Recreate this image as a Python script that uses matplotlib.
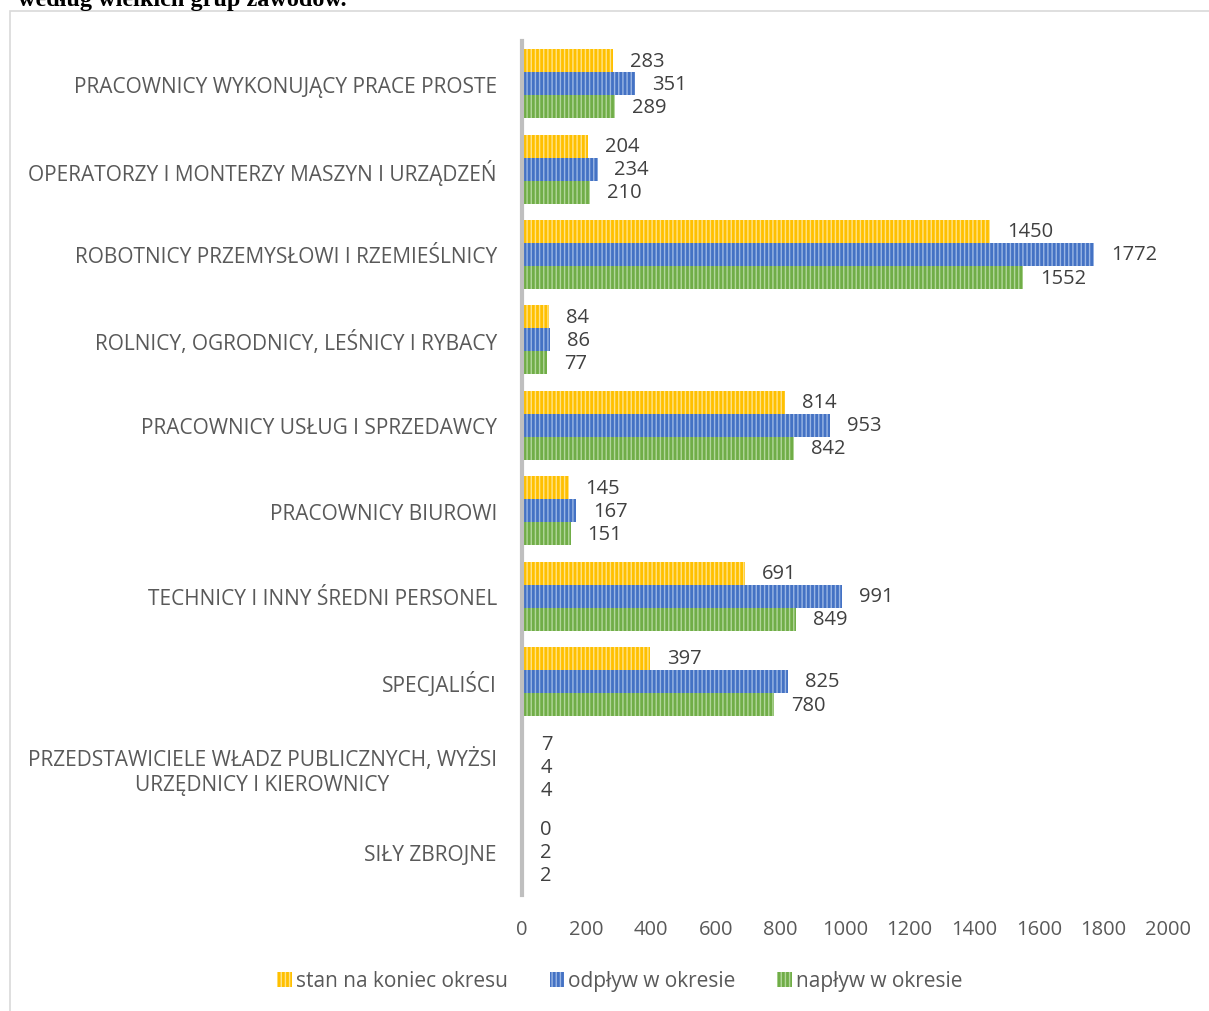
import matplotlib
matplotlib.use("Agg")
import matplotlib.pyplot as plt
from matplotlib.patches import Rectangle, Patch
import numpy as np

categories = [
    "PRACOWNICY WYKONUJĄCY PRACE PROSTE",
    "OPERATORZY I MONTERZY MASZYN I URZĄDZEŃ",
    "ROBOTNICY PRZEMYSŁOWI I RZEMIEŚLNICY",
    "ROLNICY, OGRODNICY, LEŚNICY I RYBACY",
    "PRACOWNICY USŁUG I SPRZEDAWCY",
    "PRACOWNICY BIUROWI",
    "TECHNICY I INNY ŚREDNI PERSONEL",
    "SPECJALIŚCI",
    "PRZEDSTAWICIELE WŁADZ PUBLICZNYCH, WYŻSI\nURZĘDNICY I KIEROWNICY",
    "SIŁY ZBROJNE",
]
stan = [283, 204, 1450, 84, 814, 145, 691, 397, 7, 0]
odplyw = [351, 234, 1772, 86, 953, 167, 991, 825, 4, 2]
naplyw = [289, 210, 1552, 77, 842, 151, 849, 780, 4, 2]
series_names = ["stan na koniec okresu", "odpływ w okresie", "napływ w okresie"]
xticks = [0, 200, 400, 600, 800, 1000, 1200, 1400, 1600, 1800, 2000]

colors = ["#FFC000", "#4472C4", "#70AD47"]
hatch_colors = ["#FFE38A", "#9AB6E4", "#B2D79A"]
txt = "#595959"
font = ["Open Sans", "DejaVu Sans"]

plt.rcParams["font.family"] = font
plt.rcParams["hatch.linewidth"] = 1.0

W, H = 1209, 1012
fig = plt.figure(figsize=(W / 100, H / 100), dpi=100)

# frame
fig.patches.append(Rectangle((10 / W, -0.01), 1.0, 1 - 12 / H + 0.01,
                             transform=fig.transFigure, fill=False,
                             edgecolor="#D9D9D9", linewidth=1.2))
# cut-off title (as in the reference, only its lower part is visible)
fig.text(18 / W, 1 - 6 / H, "według wielkich grup zawodów.", family="Liberation Serif",
         weight="bold", fontsize=17.5, va="baseline", ha="left", color="black")

ax = fig.add_axes([522 / W, 1 - 896 / H, (1168 - 522) / W, (896 - 42) / H])
n = len(categories)
y = np.arange(n)
h = 0.27
data = [stan, odplyw, naplyw]
for i, (vals, c, hc) in enumerate(zip(data, colors, hatch_colors)):
    pos = y + (i - 1) * h
    ax.barh(pos, vals, height=h, color=c, edgecolor=hc, linewidth=0, hatch="||||")
    for p, v in zip(pos, vals):
        ax.text(max(v, 5) + 52, p, str(v), va="center", ha="left",
                fontsize=14.5, color="#404040")

ax.set_ylim(n - 0.5, -0.5)
ax.set_xlim(0, 2000)
ax.set_yticks(y)
ax.set_yticklabels(categories, fontsize=15, color=txt)
for lbl in ax.get_yticklabels():
    lbl.set_multialignment("center")
    lbl.set_ha("right")
ax.tick_params(axis="y", length=0, pad=18)
ax.set_xticks(xticks)
ax.set_xticklabels([str(t) for t in xticks], fontsize=14.5, color=txt)
ax.tick_params(axis="x", length=0, pad=17)
for s in ["top", "right", "bottom"]:
    ax.spines[s].set_visible(False)
ax.spines["left"].set_color("#BFBFBF")
ax.spines["left"].set_linewidth(3)

handles = [Patch(facecolor=c, edgecolor=hc, hatch="||||", linewidth=0)
           for c, hc in zip(colors, hatch_colors)]
fig.legend(handles, series_names, loc="center", bbox_to_anchor=(620 / W, 1 - 982 / H),
           ncol=3, frameon=False, fontsize=15, labelcolor=txt, handlelength=0.7,
           handleheight=0.75, handletextpad=0.2, columnspacing=2.0)

fig.savefig("out.png", dpi=100)
